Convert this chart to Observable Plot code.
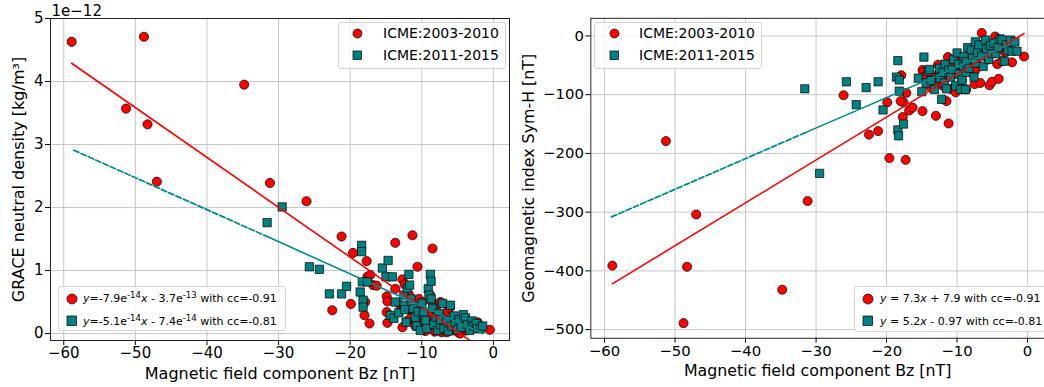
<!DOCTYPE html>
<html><head><meta charset="utf-8">
<script src="https://cdn.jsdelivr.net/npm/d3@7"></script>
<script src="https://cdn.jsdelivr.net/npm/@observablehq/plot@0.6"></script>
<style>
body{margin:0;background:#fff;font-family:"DejaVu Sans",sans-serif;}
#wrap{position:relative;width:1044px;height:387px;overflow:hidden;background:#fff;}
.panel{position:absolute;top:0;}
.lg{position:absolute;border:1px solid #d3d3d3;border-radius:3px;background:rgba(255,255,255,0.8);box-sizing:border-box;}
.lt{position:absolute;white-space:nowrap;color:#000;font-family:"DejaVu Sans",sans-serif;}
.lm{position:absolute;overflow:visible;}
</style></head><body>
<div id="wrap"><div id="left" class="panel" style="left:0"></div><div id="right" class="panel" style="left:520px"></div></div>
<script>
// ICME 2003-2010 (red circles): Bz [nT], GRACE density [1e-12 kg/m3], Sym-H [nT]
const bzRed   = [-58.9,-51.3,-48.8,-48.3,-47.0,-34.8,-31.2,-26.1,-22.5,-21.2,-19.9,-19.6,-17.3,-17.7,-17.6,-18.0,-17.9,-17.2,-16.8,-16.3,-14.9,-14.9,-14.8,-14.8,-13.7,-13.7,-13.0,-12.7,-12.7,-12.4,-12.0,-11.8,-11.6,-11.3,-11.2,-11.5,-10.9,-10.6,-10.4,-10.2,-9.9,-9.8,-9.5,-9.3,-9.0,-8.8,-8.7,-8.5,-8.4,-8.2,-8.0,-7.8,-7.5,-7.4,-7.2,-7.0,-6.7,-6.5,-6.4,-6.1,-5.9,-5.6,-5.4,-5.05,-4.8,-4.6,-4.3,-4.1,-3.8,-3.6,-3.2,-2.8,-2.2,-0.5];
const densRed = [4.63,3.57,4.71,3.32,2.41,3.95,2.39,2.10,0.37,1.54,0.47,1.28,0.16,1.15,0.90,0.29,0.50,0.93,0.77,0.76,0.59,0.34,0.17,0.51,1.44,0.71,0.45,0.86,0.10,0.78,0.20,0.62,0.37,1.56,0.30,0.25,0.12,1.06,0.55,0.16,0.50,0.08,0.04,0.20,0.30,0.61,0.53,1.35,0.10,0.03,0.42,0.15,0.08,0.50,0.02,0.25,0.10,0.02,0.35,0.41,0.06,0.18,0.05,0.08,0.01,0.00,0.20,0.12,0.05,0.06,0.10,0.15,0.18,0.06];
const symhRed = [-391,-179,-489,-393,-304,-432,-281,-101,-168,-162,-113,-208,-211,-138,-113,-111,-67,-97,-127,-122,-128,-58,-62,-70,-88,-66,-136,-49,-75,-60,-85,-70,-55,-36,-149,-111,-90,-65,-45,-96,-55,-62,-40,-75,-50,-40,-91,-38,-60,-30,-52,-20,-82,-58,-45,-15,-80,5,-30,-25,-12,-40,-84,-78,-20,-1,-48,-73,-10,-43,-28,-18,-45,-35];
// ICME 2011-2015 (teal squares)
const bzTeal   = [-31.6,-29.5,-25.7,-24.3,-22.9,-21.2,-20.5,-18.4,-18.4,-18.3,-18.6,-18.2,-18.2,-17.6,-15.5,-14.7,-15.0,-14.1,-14.4,-13.9,-13.7,-13.2,-12.5,-12.5,-12.4,-12.2,-12.0,-11.8,-11.7,-11.5,-11.2,-10.9,-10.7,-10.5,-10.2,-10.0,-9.8,-9.7,-9.5,-9.3,-9.1,-9.0,-8.8,-8.7,-8.7,-8.5,-8.3,-8.0,-7.8,-7.6,-7.4,-7.4,-7.1,-6.9,-6.5,-6.3,-6.0,-5.8,-5.5,-5.3,-5.0,-4.8,-4.5,-4.2,-3.9,-3.6,-3.3,-3.0,-2.8,-2.4,-2.2,-1.8,-1.5];
const densTeal = [1.76,2.01,1.06,1.02,0.63,0.63,0.75,1.40,1.30,0.82,0.66,0.53,0.42,0.82,1.04,1.16,0.90,0.90,0.29,0.24,0.50,0.33,0.61,0.45,0.38,0.18,0.72,0.94,0.77,0.55,0.40,0.26,0.12,0.35,0.05,0.48,0.30,0.34,0.21,0.08,0.71,0.61,0.94,0.83,0.55,0.40,0.15,0.26,0.05,0.32,0.14,0.22,0.48,0.08,0.20,0.04,0.45,0.12,0.28,0.16,0.06,0.22,0.10,0.30,0.25,0.14,0.05,0.20,0.12,0.16,0.08,0.08,0.12];
const symhTeal = [-90,-234,-78,-117,-88,-78,-126,-42,-160,-170,-70,-75,-94,-150,-72,-36,-95,-60,-80,-57,-76,-91,-66,-55,-72,-108,-62,-80,-48,-90,-58,-70,-57,-40,-85,-29,-48,-65,-91,-75,-52,-35,-91,-62,-44,-20,-55,-24,-38,-70,-10,-46,-28,-15,-34,-52,-7,-22,-40,-17,-30,-12,-30,-20,-5,-7,-43,-15,-25,-7,-26,-10,-26];
// fitted lines, endpoints
const fitDensRedX = [-58.9,-0.5],  fitDensRedY = [4.29,-0.33];
const fitDensTealDashX = [-58.6,-31.6], fitDensTealDashY = [2.91,1.54];
const fitDensTealX = [-31.6,-1.5], fitDensTealY = [1.54,0.0];
const fitSymRedX = [-58.9,-0.5], fitSymRedY = [-422,4.2];
const fitSymTealDashX = [-59.0,-31.6], fitSymTealDashY = [-308,-165];
const fitSymTealX = [-31.6,-1.5], fitSymTealY = [-165,-9];
const xTicks = [-60,-50,-40,-30,-20,-10,0];
const densTicks = [0,1,2,3,4,5];
const symhTicks = [0,-100,-200,-300,-400,-500];
const xLabel = "Magnetic field component Bz [nT]";
const densLabel = "GRACE neutral density [kg/m³]";
const symhLabel = "Geomagnetic index Sym-H [nT]";
const seriesNames = ["ICME:2003-2010","ICME:2011-2015"];

const red = bzRed.map((x,i)=>({x, dens: densRed[i], symh: symhRed[i]}));
const teal = bzTeal.map((x,i)=>({x, dens: densTeal[i], symh: symhTeal[i]}));
const pts = (xs, ys) => xs.map((x,i)=>({x, y: ys[i]}));

const RED="#ff0000", TEAL="#008080", TEALLINE="#008b8b", GRID="#c6c6c6";
const fmt = d3.format("d");

function panel(yKey, yDomain, yTicks, yLab, lines, opts) {
  return Plot.plot({
    width: opts.width, height: 387,
    marginLeft: opts.ml, marginRight: opts.mr, marginTop: 18, marginBottom: opts.mb,
    x: {type:"linear", domain: opts.xDomain},
    y: {type:"linear", domain: yDomain},
    style: {fontFamily: "DejaVu Sans, sans-serif", color: "#000", background: "transparent", overflow: "visible"},
    marks: [
      Plot.gridX(xTicks, {stroke: GRID, strokeOpacity: 1, strokeWidth: 1}),
      Plot.gridY(yTicks, {stroke: GRID, strokeOpacity: 1, strokeWidth: 1}),
      Plot.dot(red, {x: "x", y: yKey, r: 4.6, fill: RED, stroke: "#000", strokeWidth: 0.7, clip: true}),
      Plot.dot(teal, {x: "x", y: yKey, symbol: "square", r: 4.7, fill: TEAL, stroke: "#000", strokeWidth: 0.7, clip: true}),
      Plot.line(lines.red, {x: "x", y: "y", stroke: RED, strokeWidth: 1.6, clip: true}),
      Plot.line(lines.tealDash, {x: "x", y: "y", stroke: TEALLINE, strokeWidth: 1.8, strokeDasharray: "5.5,2.5", clip: true}),
      Plot.line(lines.teal, {x: "x", y: "y", stroke: TEALLINE, strokeWidth: 1.6, clip: true}),
      Plot.frame({stroke: "#222", strokeWidth: 1}),
      Plot.axisX(xTicks, {tickSize: 5, tickPadding: 2, fontSize: 15, label: null, tickFormat: fmt}),
      Plot.axisY(yTicks, {tickSize: 5, tickPadding: 2, fontSize: 15, label: null, tickFormat: fmt}),
      Plot.text([xLabel], {frameAnchor: "bottom", dy: 33, fontSize: 16, textAnchor: "middle", lineAnchor: "middle"}),
      Plot.text([yLab], {frameAnchor: "left", dx: opts.ylabDx, rotate: -90, fontSize: 16, textAnchor: "middle", lineAnchor: "middle"}),
      ...(opts.extra || [])
    ]
  });
}

const left = panel("dens", [-0.11, 5.0], densTicks, densLabel, {
  red: pts(fitDensRedX, fitDensRedY), tealDash: pts(fitDensTealDashX, fitDensTealDashY), teal: pts(fitDensTealX, fitDensTealY)
}, {width: 520, ml: 50, mr: 11, mb: 47, xDomain: [-61.85, 2.25], ylabDx: -32,
    extra: [Plot.text(["1e−12"], {frameAnchor: "top-left", dx: 1, dy: -3, lineAnchor: "bottom", textAnchor: "start", fontSize: 15})]});
document.getElementById("left").appendChild(left);

const right = panel("symh", [-514.7, 30], symhTicks, symhLabel, {
  red: pts(fitSymRedX, fitSymRedY), tealDash: pts(fitSymTealDashX, fitSymTealDashY), teal: pts(fitSymTealX, fitSymTealY)
}, {width: 529, ml: 71, mr: 0, mb: 46, xDomain: [-61.95, 2.4], ylabDx: -63});
document.getElementById("right").appendChild(right);

// legends (HTML overlay)
const wrap = document.getElementById("wrap");
function box(l,t,w,h){const d=document.createElement("div");d.className="lg";Object.assign(d.style,{left:l+"px",top:t+"px",width:w+"px",height:h+"px"});wrap.appendChild(d);}
function marker(kind,cx,cy,s){
  const ns="http://www.w3.org/2000/svg";
  const svg=document.createElementNS(ns,"svg");svg.setAttribute("class","lm");
  svg.setAttribute("width",s+4);svg.setAttribute("height",s+4);
  svg.style.left=(cx-s/2-2)+"px";svg.style.top=(cy-s/2-2)+"px";
  let el;
  if(kind==="circle"){el=document.createElementNS(ns,"circle");el.setAttribute("cx",s/2+2);el.setAttribute("cy",s/2+2);el.setAttribute("r",s/2);el.setAttribute("fill",RED);}
  else{el=document.createElementNS(ns,"rect");el.setAttribute("x",2);el.setAttribute("y",2);el.setAttribute("width",s);el.setAttribute("height",s);el.setAttribute("fill",TEAL);}
  el.setAttribute("stroke","#000");el.setAttribute("stroke-width","0.7");
  svg.appendChild(el);wrap.appendChild(svg);
}
function label(html,l,cy,fs){const d=document.createElement("div");d.className="lt";d.innerHTML=html;Object.assign(d.style,{left:l+"px",top:(cy-fs*0.6)+"px",fontSize:fs+"px",lineHeight:(fs*1.2)+"px"});wrap.appendChild(d);}
const sup = s => '<sup style="font-size:0.78em;line-height:0;vertical-align:0.5em">' + s + '</sup>';

// left top legend
box(338,22,168,47);
marker("circle",357.7,33.3,9); label(seriesNames[0],383,33.3,14);
marker("square",357.7,55.3,8.5); label(seriesNames[1],383,55.3,14);
// right top legend
box(594,22,168,47);
marker("circle",614,33.3,9); label(seriesNames[0],639,33.3,14);
marker("square",614,55.3,8.5); label(seriesNames[1],639,55.3,14);
// left bottom legend
box(58,286,228,45);
marker("circle",72,298.5,10); label('<i>y</i>=-7.9e'+sup('-14')+'<i>x</i> - 3.7e'+sup('-13')+' with cc=-0.91',83,299,11);
marker("square",72,321,9.5); label('<i>y</i>=-5.1e'+sup('-14')+'<i>x</i> - 7.4e'+sup('-14')+' with cc=-0.81',83,321.5,11);
// right bottom legend
box(854,286,192,46);
marker("circle",868,298.5,10); label('<i>y</i> = 7.3<i>x</i> + 7.9 with cc=-0.91',880,299,11);
marker("square",868,321,9.5); label('<i>y</i> = 5.2<i>x</i> - 0.97 with cc=-0.81',880,321.5,11);
</script></body></html>
